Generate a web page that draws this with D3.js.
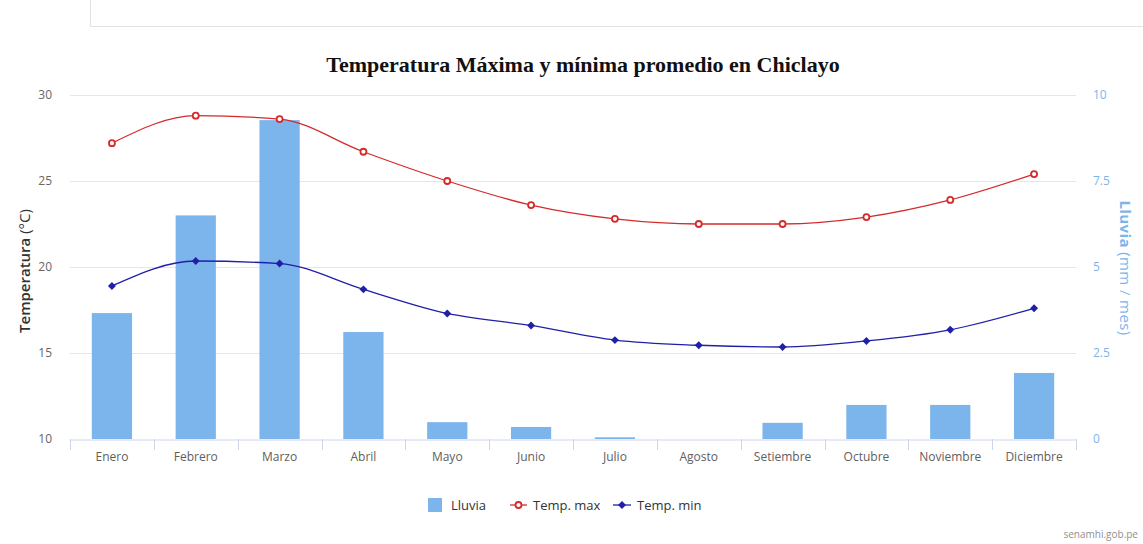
<!DOCTYPE html>
<html>
<head>
<meta charset="utf-8">
<script src="https://cdn.jsdelivr.net/npm/d3@7"></script>
<style>
  html, body { margin: 0; padding: 0; background: #fff; }
  svg { display: block; }
</style>
</head>
<body>
<svg id="chart" width="1143" height="544"></svg>
<script>
// Monthly climate normals for Chiclayo
const months = ["Enero", "Febrero", "Marzo", "Abril", "Mayo", "Junio", "Julio",
                "Agosto", "Setiembre", "Octubre", "Noviembre", "Diciembre"];
const lluvia  = [3.66, 6.5, 9.27, 3.11, 0.49, 0.35, 0.05, 0, 0.47, 0.99, 0.99, 1.92];
const tempMax = [27.2, 28.8, 28.6, 26.7, 25.0, 23.6, 22.8, 22.5, 22.5, 22.9, 23.9, 25.4];
const tempMin = [18.9, 20.35, 20.2, 18.7, 17.3, 16.6, 15.75, 15.45, 15.35, 15.7, 16.35, 17.6];
const tempTicks = [10, 15, 20, 25, 30];
const rainTicks = [0, 2.5, 5, 7.5, 10];

const font = "'Open Sans', 'DejaVu Sans', sans-serif";
const svg = d3.select("#chart");

const plot = { left: 70, right: 1076, top: 95, bottom: 439 };

const x = d3.scaleBand().domain(months).range([plot.left, plot.right]).paddingInner(0).paddingOuter(0);
const yT = d3.scaleLinear().domain([10, 30]).range([plot.bottom, plot.top]);
const yR = d3.scaleLinear().domain([0, 10]).range([plot.bottom, plot.top]);

// page frame fragment at the top
svg.append("path")
  .attr("d", "M90.5,0 V26.5 H1143")
  .attr("fill", "none").attr("stroke", "#e3e3e3").attr("stroke-width", 1);

// grid lines
svg.append("g").selectAll("line").data(tempTicks.filter(t => t !== 10)).join("line")
  .attr("x1", plot.left).attr("x2", plot.right)
  .attr("y1", d => Math.round(yT(d)) + 0.5).attr("y2", d => Math.round(yT(d)) + 0.5)
  .attr("stroke", "#e6e6e6").attr("stroke-width", 1);

// rainfall bars
const bw = x.bandwidth() * 0.48;
svg.append("g").selectAll("rect").data(months).join("rect")
  .attr("x", (d) => x(d) + (x.bandwidth() - bw) / 2)
  .attr("width", bw)
  .attr("y", (d, i) => yR(lluvia[i]))
  .attr("height", (d, i) => plot.bottom - yR(lluvia[i]))
  .attr("fill", "#7cb5ec");

// x axis
const xAxis = d3.axisBottom(x).tickSize(0).tickPadding(13);
const gx = svg.append("g").attr("transform", `translate(0,${plot.bottom + 0.5})`).call(xAxis);
gx.select(".domain").attr("stroke", "#ccd6eb");
gx.selectAll("text").attr("font-family", font).attr("font-size", 12).attr("fill", "#606060");
// tick marks on category boundaries
const edges = months.map(m => x(m)).concat([plot.right]);
svg.append("g").selectAll("line").data(edges).join("line")
  .attr("x1", d => Math.round(d) + 0.5).attr("x2", d => Math.round(d) + 0.5)
  .attr("y1", plot.bottom).attr("y2", plot.bottom + 11)
  .attr("stroke", "#ccd6eb");

// left axis (temperature)
const gl = svg.append("g").attr("transform", `translate(${plot.left},0)`)
  .call(d3.axisLeft(yT).tickValues(tempTicks).tickSize(0).tickPadding(18));
gl.select(".domain").remove();
gl.selectAll("text").attr("font-family", font).attr("font-size", 12).attr("fill", "#666");

// right axis (rainfall)
const gr = svg.append("g").attr("transform", `translate(${plot.right},0)`)
  .call(d3.axisRight(yR).tickValues(rainTicks).tickSize(0).tickPadding(17)
    .tickFormat(d3.format("~g")));
gr.select(".domain").remove();
gr.selectAll("text").attr("font-family", font).attr("font-size", 12).attr("fill", "#7cb5ec");

// axis titles
const lt = svg.append("text")
  .attr("transform", `translate(30,271) rotate(-90)`)
  .attr("text-anchor", "middle").attr("font-family", font).attr("font-size", 15).attr("fill", "#333");
lt.append("tspan").attr("font-weight", 600).text("Temperatura");
lt.append("tspan").text(" (°C)");

const rt = svg.append("text")
  .attr("transform", `translate(1120,268) rotate(90)`)
  .attr("text-anchor", "middle").attr("font-family", font).attr("font-size", 15)
  .attr("letter-spacing", 0.4).attr("fill", "#7cb5ec");
rt.append("tspan").attr("font-weight", 700).text("Lluvia");
rt.append("tspan").text(" (mm / mes)");

// temperature lines
const cx = d => x(d) + x.bandwidth() / 2;
const line = vals => d3.line().x((d, i) => cx(months[i])).y(d => yT(d)).curve(d3.curveMonotoneX)(vals);

const maxColor = "#d42a2a", minColor = "#1f1fa8";
svg.append("path").attr("d", line(tempMax)).attr("fill", "none")
  .attr("stroke", maxColor).attr("stroke-width", 1.3);
svg.append("path").attr("d", line(tempMin)).attr("fill", "none")
  .attr("stroke", minColor).attr("stroke-width", 1.3);

svg.append("g").selectAll("circle").data(tempMax).join("circle")
  .attr("cx", (d, i) => cx(months[i])).attr("cy", d => yT(d)).attr("r", 3)
  .attr("fill", "#fff").attr("stroke", maxColor).attr("stroke-width", 1.8);

const diamond = d3.symbol().type(d3.symbolDiamond2).size(40);
svg.append("g").selectAll("path").data(tempMin).join("path")
  .attr("transform", (d, i) => `translate(${cx(months[i])},${yT(d)})`)
  .attr("d", diamond).attr("fill", minColor);

// title
svg.append("text").attr("x", 583).attr("y", 72).attr("text-anchor", "middle")
  .attr("font-family", "'Liberation Serif', 'Times New Roman', serif")
  .attr("font-size", 22).attr("font-weight", "bold").attr("fill", "#111")
  .text("Temperatura Máxima y mínima promedio en Chiclayo");

// legend
const lg = svg.append("g").attr("font-family", font).attr("font-size", 13).attr("fill", "#333");
lg.append("rect").attr("x", 428).attr("y", 498).attr("width", 14).attr("height", 14).attr("fill", "#7cb5ec");
lg.append("text").attr("x", 451).attr("y", 510).text("Lluvia");
lg.append("line").attr("x1", 510).attr("x2", 527).attr("y1", 505).attr("y2", 505).attr("stroke", maxColor).attr("stroke-width", 1.3);
lg.append("circle").attr("cx", 518.5).attr("cy", 505).attr("r", 3).attr("fill", "#fff").attr("stroke", maxColor).attr("stroke-width", 1.8);
lg.append("text").attr("x", 533).attr("y", 510).text("Temp. max");
lg.append("line").attr("x1", 613).attr("x2", 631).attr("y1", 505).attr("y2", 505).attr("stroke", minColor).attr("stroke-width", 1.3);
lg.append("path").attr("transform", "translate(622,505)").attr("d", diamond).attr("fill", minColor);
lg.append("text").attr("x", 637).attr("y", 510).text("Temp. min");

// credit
svg.append("text").attr("x", 1138).attr("y", 538).attr("text-anchor", "end")
  .attr("font-family", font).attr("font-size", 10).attr("fill", "#909090").text("senamhi.gob.pe");
</script>
</body>
</html>
